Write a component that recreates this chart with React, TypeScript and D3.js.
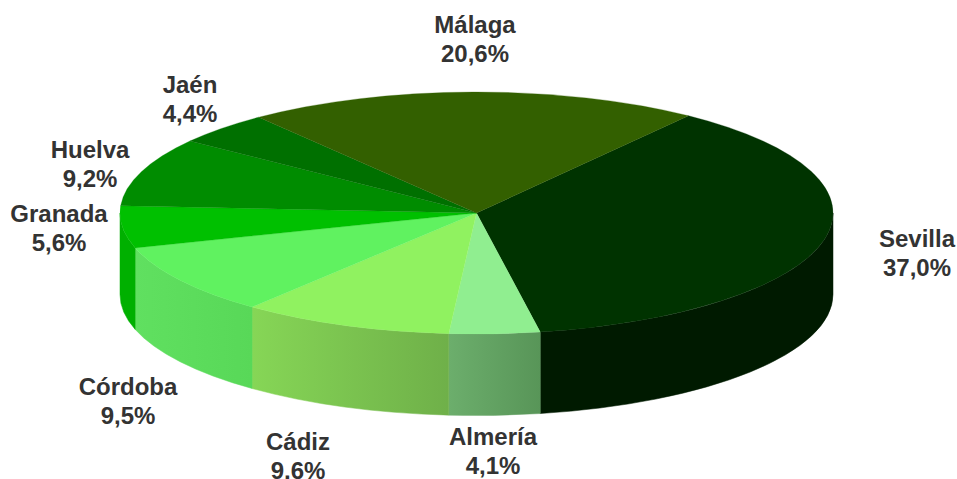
import React from "react";
import * as d3 from "d3";

const provinces = ["Sevilla", "Almería", "Cádiz", "Córdoba", "Granada", "Huelva", "Jaén", "Málaga"];
const shares = [37.0, 4.1, 9.6, 9.5, 5.6, 9.2, 4.4, 20.6];
const percentLabels = ["37,0%", "4,1%", "9,6%", "9,5%", "5,6%", "9,2%", "4,4%", "20,6%"];
const topColors = ["#003300", "#90ee90", "#90f260", "#60f260", "#00c000", "#008c00", "#007000", "#336000"];
const sideFrom = ["#001a00", "#6cae6c", "#86d656", "#60e060", "#00b000", "#007000", "#005a00", "#294d00"];
const sideTo = ["#001a00", "#589558", "#6fb049", "#58d858", "#00b000", "#007000", "#005a00", "#294d00"];
const labelCenters: [number, number][] = [
  [917, 247], [493, 445], [298, 450], [128, 395], [59, 222], [90, 158], [190, 93], [475, 33],
];

const W = 957, H = 479;
const cx = 476.5, cy = 213, rx = 356.5, ry = 121, depth = 81.5;
const startDeg = 36.5;

const pie = d3.pie<number>().sort(null).startAngle((startDeg * Math.PI) / 180).endAngle(((startDeg + 360) * Math.PI) / 180);
const arcs = pie(shares);
const arcGen = d3.arc<d3.PieArcDatum<number>>().innerRadius(0).outerRadius(rx);

const pt = (a: number, dy = 0): [number, number] => [cx + rx * Math.sin(a), cy - ry * Math.cos(a) + dy];

// The visible front wall spans angles PI/2 .. 3PI/2
function frontSpan(a0: number, a1: number): [number, number] | null {
  const lo = Math.max(a0, Math.PI / 2), hi = Math.min(a1, (3 * Math.PI) / 2);
  return hi > lo ? [lo, hi] : null;
}

function sidePath(a0: number, a1: number): string {
  const [x0, y0] = pt(a0), [x1, y1] = pt(a1), [x2, y2] = pt(a1, depth), [x3, y3] = pt(a0, depth);
  return `M${x0},${y0}A${rx},${ry} 0 0 1 ${x1},${y1}L${x2},${y2}A${rx},${ry} 0 0 0 ${x3},${y3}Z`;
}

export default function App() {
  return (
    <svg width={W} height={H} viewBox={`0 0 ${W} ${H}`} style={{ position: "absolute", left: 0, top: 0, display: "block", background: "#fff" }}>
      <defs>
        {arcs.map((d, i) => {
          const span = frontSpan(d.startAngle, d.endAngle);
          if (!span) return null;
          const xa = pt(span[0])[0], xb = pt(span[1])[0];
          return (
            <linearGradient key={i} id={`side${i}`} gradientUnits="userSpaceOnUse" x1={Math.min(xa, xb)} x2={Math.max(xa, xb)} y1={0} y2={0}>
              <stop offset="0" stopColor={sideFrom[i]} />
              <stop offset="1" stopColor={sideTo[i]} />
            </linearGradient>
          );
        })}
      </defs>
      {arcs.map((d, i) => {
        const span = frontSpan(d.startAngle, d.endAngle);
        if (!span) return null;
        return <path key={i} d={sidePath(span[0], span[1])} fill={`url(#side${i})`} stroke={`url(#side${i})`} strokeWidth={0.5} />;
      })}
      <g transform={`translate(${cx},${cy}) scale(1,${ry / rx})`}>
        {arcs.map((d, i) => (
          <path key={i} d={arcGen(d) as string} fill={topColors[i]} stroke={topColors[i]} strokeWidth={0.4} />
        ))}
      </g>
      <g fontFamily="'Liberation Sans', Arial, sans-serif" fontWeight={700} fontSize={24} fill="#333333" textAnchor="middle">
        {provinces.map((name, i) => (
          <text key={name} x={labelCenters[i][0]} y={labelCenters[i][1]}>
            <tspan x={labelCenters[i][0]}>{name}</tspan>
            <tspan x={labelCenters[i][0]} dy={28.5}>{percentLabels[i]}</tspan>
          </text>
        ))}
      </g>
    </svg>
  );
}
